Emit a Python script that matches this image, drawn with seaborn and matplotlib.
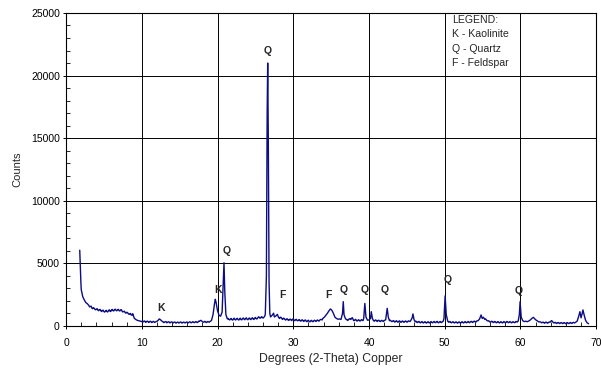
import numpy as np
import pandas as pd
import matplotlib
matplotlib.use("Agg")
import matplotlib.pyplot as plt
import matplotlib.ticker as ticker
import seaborn as sns

# --- data ---
two_theta = [
    1.8, 1.85, 1.9, 1.95, 2.0, 2.2, 2.4, 2.6, 2.8, 3.0, 3.2, 3.4, 3.6, 3.8, 4.0, 4.2, 4.4, 4.6, 4.8,
    5.0, 5.2, 5.4, 5.6, 5.8, 6.0, 6.2, 6.4, 6.6, 6.8, 7.0, 7.2, 7.4, 7.6, 7.8, 8.0, 8.2, 8.4, 8.6,
    8.8, 9.0, 9.2, 9.4, 9.6, 9.8, 10.0,
    10.2, 10.4, 10.6, 10.8, 11.0, 11.2, 11.4, 11.6, 11.8, 12.0, 12.2, 12.4, 12.6, 12.8, 13.0, 13.2,
    13.4, 13.6, 13.8, 14.0, 14.2, 14.4, 14.6, 14.8, 15.0, 15.2, 15.4, 15.6, 15.8, 16.0, 16.2, 16.4,
    16.6, 16.8, 17.0, 17.2, 17.4, 17.6, 17.8, 18.0, 18.2, 18.4, 18.6, 18.8, 19.0, 19.2, 19.4, 19.6,
    19.7, 19.8, 20.0, 20.2, 20.4, 20.6, 20.75, 20.85, 20.95, 21.1, 21.3, 21.5, 21.7, 21.9, 22.1,
    22.3, 22.5, 22.7, 22.9, 23.1, 23.3, 23.5, 23.7, 23.9, 24.1, 24.3, 24.5, 24.7, 24.9, 25.1, 25.3,
    25.5, 25.7, 25.9, 26.1, 26.3, 26.45, 26.55, 26.62, 26.7, 26.8, 26.9, 27.0, 27.2, 27.4, 27.5,
    27.7, 27.9, 28.1, 28.3, 28.5, 28.7, 28.9, 29.1, 29.3, 29.5, 29.7, 29.9, 30.1, 30.3, 30.5, 30.7,
    30.9, 31.1, 31.3, 31.5, 31.7, 31.9, 32.1, 32.3, 32.5, 32.7, 32.9, 33.1, 33.3, 33.5, 33.7, 33.9,
    34.1, 34.3, 34.5, 34.7, 34.9, 35.1, 35.3, 35.5, 35.7, 35.9, 36.1, 36.3, 36.5, 36.6, 36.7, 36.9,
    37.1, 37.3, 37.5, 37.7, 37.9, 38.1, 38.3, 38.5, 38.7, 38.9, 39.1, 39.3, 39.45, 39.6, 39.8, 40.0,
    40.2, 40.3, 40.45, 40.6, 40.8, 41.0, 41.2, 41.4, 41.6, 41.8, 42.0, 42.2, 42.4, 42.55, 42.7, 42.9,
    43.1, 43.3, 43.5, 43.7, 43.9, 44.1, 44.3, 44.5, 44.7, 44.9, 45.1, 45.3, 45.5, 45.7, 45.8, 45.95,
    46.1, 46.3, 46.5, 46.7, 46.9, 47.1, 47.3, 47.5, 47.7, 47.9, 48.1, 48.3, 48.5, 48.7, 48.9, 49.1,
    49.3, 49.5, 49.7, 49.9, 50.05, 50.2, 50.4, 50.6, 50.8, 51.0, 51.2, 51.4, 51.6, 51.8, 52.0, 52.2,
    52.4, 52.6, 52.8, 53.0, 53.2, 53.4, 53.6, 53.8, 54.0, 54.2, 54.4, 54.6, 54.8, 54.95, 55.1, 55.3,
    55.5, 55.7, 55.9, 56.1, 56.3, 56.5, 56.7, 56.9, 57.1, 57.3, 57.5, 57.7, 57.9, 58.1, 58.3, 58.5,
    58.7, 58.9, 59.1, 59.3, 59.5, 59.7, 59.85, 59.95, 60.1, 60.3, 60.5, 60.7, 60.9, 61.1, 61.3, 61.5,
    61.7, 61.9, 62.1, 62.3, 62.5, 62.7, 62.9, 63.1, 63.3, 63.5, 63.7, 63.9, 64.1, 64.3, 64.5, 64.7,
    64.9, 65.1, 65.3, 65.5, 65.7, 65.9, 66.1, 66.3, 66.5, 66.7, 66.9, 67.1, 67.3, 67.5, 67.7, 67.85,
    68.0, 68.15, 68.25, 68.4, 68.6, 68.8, 69.0,
]
counts = [
    6050, 5200, 4300, 3500, 2900, 2330, 2080, 1870, 1780, 1640, 1560, 1430, 1460, 1330, 1350, 1260, 1300, 1200, 1240,
    1140, 1190, 1150, 1230, 1170, 1290, 1220, 1310, 1240, 1300, 1220, 1290, 1170, 1150, 1070, 1090, 990, 960, 880,
    980, 620, 520, 450, 420, 380, 360,
    340, 380, 320, 360, 310, 350, 300, 340, 320, 370, 480, 530, 400, 330, 300, 340,
    290, 320, 280, 310, 270, 300, 260, 290, 270, 300, 260, 290, 270, 300, 280, 310,
    280, 320, 290, 330, 300, 360, 450, 350, 310, 340, 300, 330, 360, 450, 900, 1800,
    2130, 1900, 1200, 850, 780, 1100, 3600, 5050, 2800, 900, 560, 520, 560, 500, 560,
    510, 570, 520, 560, 510, 590, 540, 600, 530, 580, 540, 600, 550, 620, 580, 650,
    700, 640, 700, 680, 900, 4000, 17000, 21000, 15000, 3500, 1000, 720, 850, 1020, 720,
    800, 930, 650, 700, 580, 620, 520, 560, 480, 520, 470, 540, 460, 500, 440, 480,
    420, 470, 400, 450, 380, 420, 360, 410, 370, 420, 390, 440, 410, 470, 520, 600,
    700, 850, 1010, 1200, 1360, 1250, 1000, 700, 600, 540, 560, 520, 1000, 1940, 900, 560,
    480, 520, 560, 620, 520, 450, 480, 420, 460, 430, 470, 600, 1800, 700, 460, 480,
    600, 1140, 600, 420, 460, 400, 440, 380, 420, 390, 430, 500, 1410, 700, 420, 400,
    360, 400, 340, 380, 330, 370, 320, 360, 330, 370, 340, 380, 420, 650, 960, 500,
    340, 300, 340, 280, 320, 270, 310, 260, 300, 270, 310, 280, 320, 290, 330, 280,
    320, 290, 350, 600, 2400, 900, 380, 320, 280, 310, 270, 300, 260, 290, 260, 300,
    270, 310, 280, 320, 290, 330, 310, 350, 330, 380, 420, 560, 880, 600, 700, 520,
    480, 400, 360, 320, 350, 300, 330, 280, 320, 270, 310, 280, 320, 290, 330, 290,
    320, 280, 310, 290, 330, 400, 900, 1940, 700, 420, 350, 380, 340, 400, 480, 600,
    690, 560, 450, 380, 320, 300, 280, 250, 290, 250, 280, 300, 430, 300, 260, 230,
    260, 220, 250, 220, 250, 210, 240, 210, 250, 220, 260, 240, 300, 400, 800, 1140,
    650, 1000, 1280, 900, 450, 250, 180,
]

# extra readings in the noisy background stretches
extra_theta = [
    3.1, 3.3, 3.5, 3.7, 3.9, 4.1, 4.3, 4.5, 4.7, 4.9, 5.1, 5.3, 5.5, 5.7, 5.9, 6.1, 6.3, 6.5, 6.7, 6.9,
    7.1, 7.3, 7.5, 7.7, 7.9, 8.1, 8.3, 8.5, 8.7,
    10.1, 10.3, 10.5, 10.7, 10.9, 11.1, 11.3, 11.5, 11.7, 11.9, 12.1, 12.3, 12.5, 12.7, 12.9, 13.1,
    13.3, 13.5, 13.7, 13.9, 14.1, 14.3, 14.5, 14.7, 14.9, 15.1, 15.3, 15.5, 15.7, 15.9, 16.1, 16.3,
    16.5, 16.7, 16.9, 17.1, 17.3, 17.5, 17.7, 17.9, 18.1, 18.3, 18.5, 18.7, 18.9, 19.1,
    21.4, 21.6, 21.8, 22.0, 22.2, 22.4, 22.6, 22.8, 23.0, 23.2, 23.4, 23.6, 23.8, 24.0, 24.2, 24.4,
    24.6, 24.8, 25.0, 25.2, 25.4, 25.6, 25.8, 26.0, 26.2,
    28.0, 28.2, 28.4, 28.6, 28.8, 29.0, 29.2, 29.4, 29.6, 29.8, 30.0, 30.2, 30.4, 30.6, 30.8, 31.0,
    31.2, 31.4, 31.6, 31.8, 32.0, 32.2, 32.4, 32.6, 32.8, 33.0, 33.2, 33.4, 33.6, 33.8,
    37.0, 37.2, 37.4, 37.6, 37.8, 38.0, 38.2, 38.4, 38.6, 38.8, 39.0, 39.2,
    40.7, 40.9, 41.1, 41.3, 41.5, 41.7, 41.9, 42.1,
    42.8, 43.0, 43.2, 43.4, 43.6, 43.8, 44.0, 44.2, 44.4, 44.6, 44.8, 45.0, 45.2, 45.4,
    46.2, 46.4, 46.6, 46.8, 47.0, 47.2, 47.4, 47.6, 47.8, 48.0, 48.2, 48.4, 48.6, 48.8, 49.0, 49.2,
    49.4, 49.6, 49.8,
    50.5, 50.7, 50.9, 51.1, 51.3, 51.5, 51.7, 51.9, 52.1, 52.3, 52.5, 52.7, 52.9, 53.1, 53.3, 53.5,
    53.7, 53.9, 54.1, 54.3,
    55.4, 55.6, 55.8, 56.0, 56.2, 56.4, 56.6, 56.8, 57.0, 57.2, 57.4, 57.6, 57.8, 58.0, 58.2, 58.4,
    58.6, 58.8, 59.0, 59.2, 59.4, 59.6,
    62.2, 62.4, 62.6, 62.8, 63.0, 63.2, 63.4, 63.6, 63.8, 64.0, 64.2, 64.4, 64.6, 64.8, 65.0, 65.2,
    65.4, 65.6, 65.8, 66.0, 66.2, 66.4, 66.6, 66.8, 67.0, 67.2,
]
extra_counts = [
    1520, 1580, 1380, 1420, 1290, 1380, 1220, 1320, 1150, 1260, 1110, 1250, 1120, 1290, 1160, 1320, 1200, 1340, 1210, 1330,
    1200, 1300, 1120, 1180, 1020, 1080, 930, 1000, 860,
    300, 400, 290, 390, 280, 380, 270, 370, 280, 360, 420, 560, 470, 360, 270, 350,
    250, 340, 240, 330, 230, 320, 230, 310, 230, 320, 230, 310, 240, 320, 240, 330,
    250, 340, 260, 350, 270, 380, 420, 400, 300, 370, 270, 360, 300, 390,
    600, 480, 600, 470, 620, 480, 610, 470, 620, 490, 640, 500, 650, 500, 640, 510,
    660, 520, 680, 560, 730, 620, 740, 630, 760,
    760, 600, 680, 520, 600, 470, 570, 440, 550, 430, 560, 420, 530, 410, 510, 380,
    490, 360, 480, 340, 460, 330, 450, 340, 460, 360, 480, 390, 520, 480,
    540, 440, 580, 520, 660, 420, 530, 390, 500, 390, 510, 420,
    380, 480, 360, 460, 350, 450, 360, 460,
    460, 350, 430, 310, 420, 300, 410, 290, 400, 290, 400, 300, 410, 350,
    380, 270, 360, 250, 350, 240, 340, 230, 340, 240, 350, 250, 360, 260, 370, 250,
    360, 270, 380,
    300, 360, 250, 340, 240, 330, 230, 330, 230, 340, 240, 350, 250, 360, 260, 370,
    280, 390, 300, 420,
    560, 430, 420, 300, 380, 270, 360, 250, 350, 240, 340, 240, 350, 250, 360, 260,
    350, 250, 340, 260, 360, 320,
    420, 330, 340, 250, 310, 220, 310, 220, 320, 360, 380, 240, 290, 200, 280, 190,
    270, 190, 270, 180, 270, 190, 280, 200, 290, 260,
]
assert len(two_theta) == len(counts) and len(extra_theta) == len(extra_counts)

peak_labels = ["K", "K", "Q", "Q", "F", "F", "Q", "Q", "Q", "Q", "Q"]
peak_label_x = [12.5, 20.0, 21.2, 26.6, 28.6, 34.6, 36.6, 39.4, 42.1, 50.4, 59.8]
peak_label_y = [1410, 2850, 5990, 22000, 2450, 2450, 2870, 2870, 2870, 3670, 2790]

legend_lines = ["LEGEND:", "K - Kaolinite", "Q - Quartz", "F - Feldspar"]

df = pd.DataFrame({"two_theta": two_theta + extra_theta, "counts": counts + extra_counts})
df = df.sort_values("two_theta")

sns.set_style("white")
plt.rcParams["font.family"] = ["Liberation Sans", "DejaVu Sans"]

fig = plt.figure(figsize=(6.01, 3.70), dpi=100)
ax = fig.add_axes([0.110, 0.119, 0.882, 0.846])

sns.lineplot(data=df, x="two_theta", y="counts", color="#0c0c84", linewidth=1.0, ax=ax)

ax.set_xlim(0, 70)
ax.set_ylim(0, 25000)
ax.xaxis.set_major_locator(ticker.MultipleLocator(10))
ax.xaxis.set_minor_locator(ticker.MultipleLocator(2))
ax.yaxis.set_major_locator(ticker.MultipleLocator(5000))
ax.yaxis.set_minor_locator(ticker.MultipleLocator(1000))
ax.grid(True, which="major", color="black", linewidth=0.7)
ax.set_axisbelow(True)

ax.tick_params(axis="x", which="major", direction="inout", length=5, width=0.7,
               labelsize=7.5, colors="black", pad=6, bottom=True)
ax.tick_params(axis="y", which="major", direction="inout", length=5, width=0.7,
               labelsize=7.5, colors="black", pad=2, left=True)
ax.tick_params(axis="both", which="minor", direction="in", length=3, width=0.7,
               bottom=True, left=True)
for s in ax.spines.values():
    s.set_color("black")
    s.set_linewidth(0.8)

ax.set_xlabel("Degrees (2-Theta) Copper", fontsize=8.8, labelpad=4)
ax.set_ylabel("Counts", fontsize=8.0, labelpad=6)

# peak markers
for lab, px, py in zip(peak_labels, peak_label_x, peak_label_y):
    ax.text(px, py, lab, ha="center", va="center", fontsize=7.5, fontweight="bold")

# legend block written as text
for i, line in enumerate(legend_lines):
    ax.text(51.0, 24400 - i * 1120, line, ha="left", va="center", fontsize=7.6)

fig.savefig("out.png", dpi=100)
